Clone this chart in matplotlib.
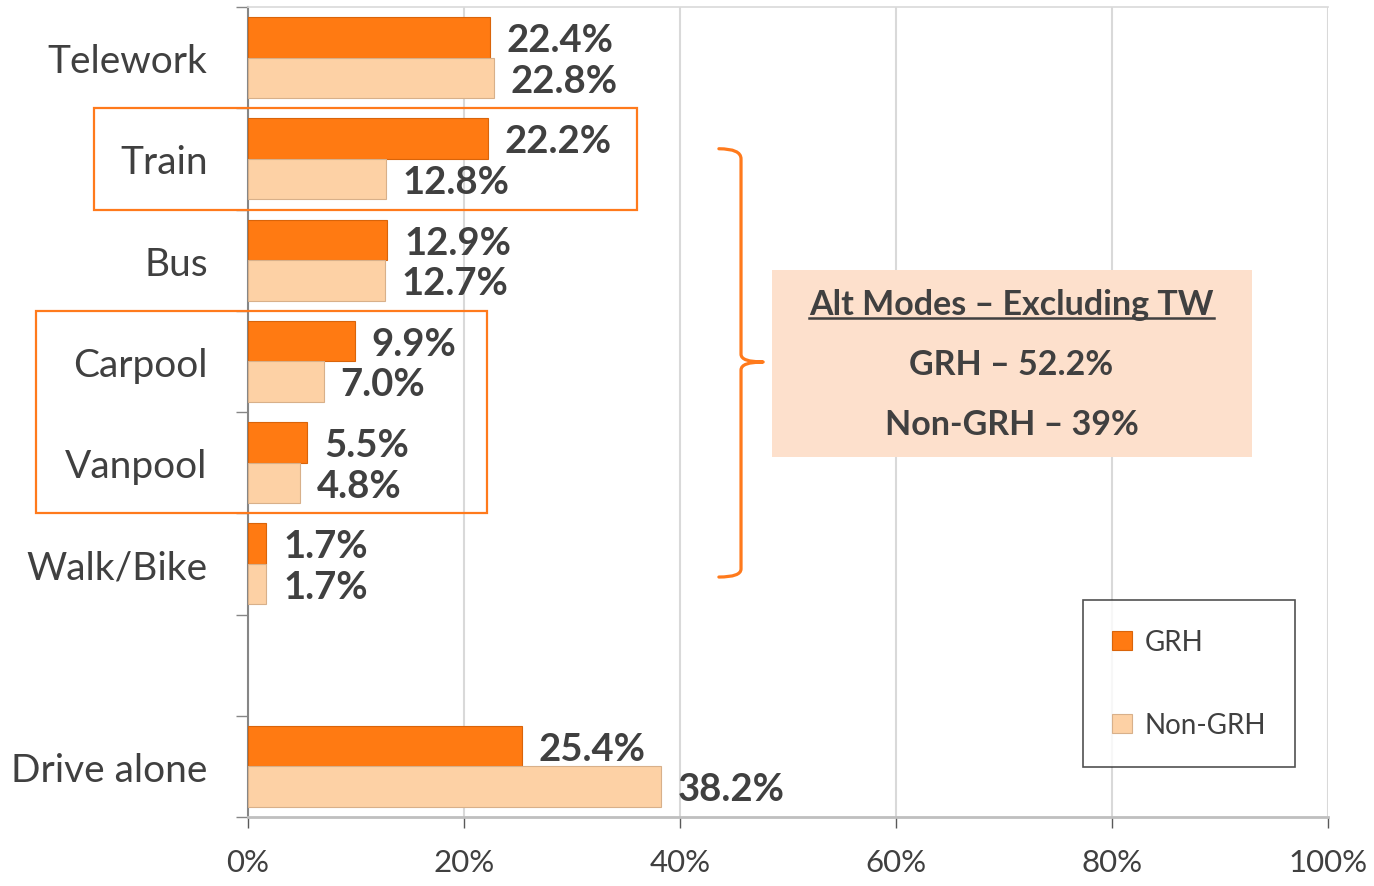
import matplotlib
matplotlib.use("Agg")
import matplotlib.pyplot as plt
import numpy as np
from matplotlib.patches import Rectangle, PathPatch
from matplotlib.path import Path
from matplotlib.lines import Line2D

plt.rcParams['font.family'] = ['Lato', 'DejaVu Sans']

categories = ["Telework", "Train", "Bus", "Carpool", "Vanpool", "Walk/Bike", "", "Drive alone"]
grh = [22.4, 22.2, 12.9, 9.9, 5.5, 1.7, np.nan, 25.4]
non_grh = [22.8, 12.8, 12.7, 7.0, 4.8, 1.7, np.nan, 38.2]
series_names = ["GRH", "Non-GRH"]
xticks = [0, 20, 40, 60, 80, 100]
xtick_labels = ["0%", "20%", "40%", "60%", "80%", "100%"]
box_lines = ["Alt Modes \u2013 Excluding TW", "GRH \u2013 52.2%", "Non-GRH \u2013 39%"]

C_GRH = "#FF7A12"
C_NON = "#FDD1A5"
C_TXT = "#404040"
C_ORANGE = "#FF7A1C"

fig = plt.figure(figsize=(13.74, 8.87), dpi=100)
ax = fig.add_axes([248/1374, 1-818/887, (1328-248)/1374, (818-8)/887])

y = np.arange(len(categories))
h = 0.4
b1 = ax.barh(y - h/2, grh, height=h, color=C_GRH, edgecolor="#D9640A", linewidth=0.8, zorder=3, label=series_names[0])
b2 = ax.barh(y + h/2, non_grh, height=h, color=C_NON, edgecolor="#D8B08A", linewidth=0.8, zorder=3, label=series_names[1])

for bars, vals in ((b1, grh), (b2, non_grh)):
    for rect, v in zip(bars, vals):
        if np.isnan(v):
            continue
        ax.annotate(f"{v:.1f}%", xy=(v, rect.get_y() + rect.get_height()/2),
                    xytext=(12, -2), textcoords="offset points", ha="left", va="center",
                    fontsize=27.5, fontweight="bold", color=C_TXT, zorder=5)

ax.set_xlim(0, 100)
ax.set_ylim(len(categories) - 0.5, -0.5)
ax.set_xticks(xticks)
ax.set_xticklabels(xtick_labels, fontsize=22.5, color=C_TXT)
ax.tick_params(axis="x", length=8, width=1, color="#595959", pad=14)

ax.set_yticks(np.arange(len(categories) + 1) - 0.5)
ax.set_yticklabels([])
ax.tick_params(axis="y", which="major", length=9, width=1, color="#868686", direction="out")
ax.set_yticks(y, minor=True)
ax.set_yticklabels(categories, minor=True, fontsize=28, color=C_TXT)
ax.tick_params(axis="y", which="minor", length=0, pad=29)

ax.xaxis.grid(True, color="#D9D9D9", linewidth=1.5, zorder=0)
ax.set_axisbelow(True)
ax.spines["left"].set_color("#868686")
ax.spines["left"].set_linewidth(1.5)
ax.spines["bottom"].set_color("#BFBFBF")
ax.spines["bottom"].set_linewidth(2)
ax.spines["top"].set_color("#D9D9D9")
ax.spines["top"].set_linewidth(1.2)
ax.spines["right"].set_visible(False)

# highlight boxes (Train; Carpool + Vanpool)
ax.add_patch(Rectangle((-14.3, 0.5), 50.3, 1.0, fill=False, edgecolor=C_ORANGE, linewidth=1.6, clip_on=False, zorder=6))
ax.add_patch(Rectangle((-19.6, 2.5), 41.7, 2.0, fill=False, edgecolor=C_ORANGE, linewidth=1.6, clip_on=False, zorder=6))

# curly brace
xl, xv, xt = 43.6, 45.65, 47.7
verts = [(xl, 0.90), (xv, 0.90), (xv, 1.00), (xv, 2.93),
         (xv, 3.006), (xt, 3.006), (xv, 3.006), (xv, 3.085),
         (xv, 5.05), (xv, 5.13), (xl, 5.13)]
codes = [Path.MOVETO, Path.CURVE3, Path.CURVE3, Path.LINETO,
         Path.CURVE3, Path.CURVE3, Path.CURVE3, Path.CURVE3,
         Path.LINETO, Path.CURVE3, Path.CURVE3]
ax.add_patch(PathPatch(Path(verts, codes), fill=False, edgecolor=C_ORANGE, linewidth=2.3, zorder=6, capstyle="round", joinstyle="round"))

# summary box
ax.add_patch(Rectangle((48.5, 2.10), 44.5, 1.84, facecolor="#FDE0CC", edgecolor="none", zorder=4))
tx = 70.7
t0 = ax.text(tx, 2.43, box_lines[0], ha="center", va="center", fontsize=24.5, fontweight="bold", color=C_TXT, zorder=5)
ax.text(tx, 3.03, box_lines[1], ha="center", va="center", fontsize=24.5, fontweight="bold", color=C_TXT, zorder=5)
ax.text(tx, 3.62, box_lines[2], ha="center", va="center", fontsize=24.5, fontweight="bold", color=C_TXT, zorder=5)

leg = ax.legend(handles=[b1, b2], labels=series_names, loc="upper right",
                bbox_to_anchor=(1295/1374, 1-601/887), bbox_transform=fig.transFigure,
                fontsize=20, frameon=True, fancybox=False, edgecolor="#262626",
                handlelength=0.7, handleheight=0.7, handletextpad=0.45,
                labelspacing=2.05, borderpad=1.05, borderaxespad=0)
leg.get_frame().set_linewidth(1.2)
for t in leg.get_texts():
    t.set_color(C_TXT)

# underline first line of box
fig.canvas.draw()
r = fig.canvas.get_renderer()
bb = t0.get_window_extent(renderer=r)
inv = fig.transFigure.inverted()
(x0, y0), (x1, _) = inv.transform([(bb.x0, bb.y0 + 2), (bb.x1, bb.y0 + 2)])
fig.add_artist(Line2D([x0, x1], [y0, y0], color=C_TXT, linewidth=1.8, zorder=7))

fig.savefig("out.png", dpi=100)
